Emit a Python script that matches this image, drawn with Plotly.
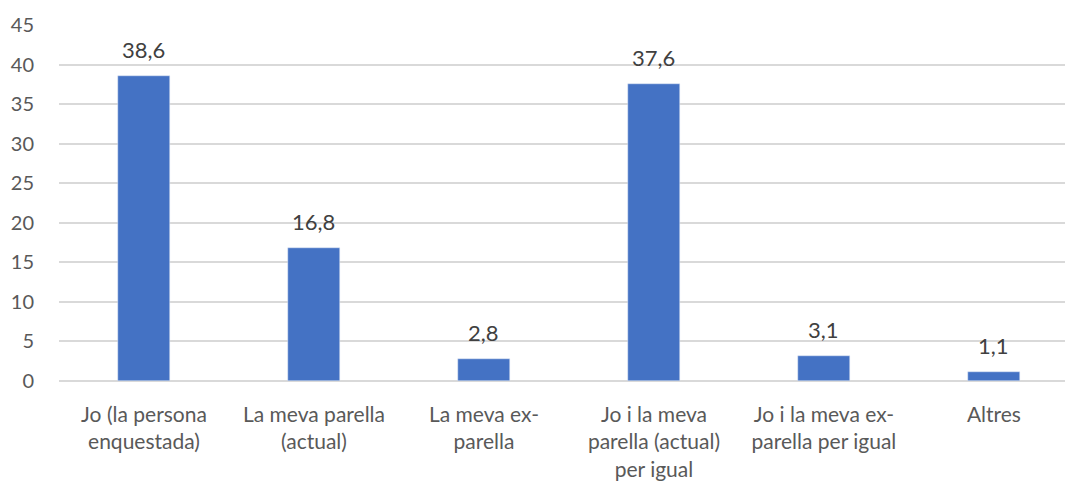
import plotly.graph_objects as go

categories = [
    "Jo (la persona<br>enquestada)",
    "La meva parella<br>(actual)",
    "La meva ex-<br>parella",
    "Jo i la meva<br>parella (actual)<br>per igual",
    "Jo i la meva ex-<br>parella per igual",
    "Altres",
]
values = [38.6, 16.8, 2.8, 37.6, 3.1, 1.1]
y_ticks = [0, 5, 10, 15, 20, 25, 30, 35, 40, 45]

FONT = "Lato, Open Sans, sans-serif"
xs = list(range(len(categories)))

fig = go.Figure(
    go.Bar(
        x=xs,
        y=values,
        marker=dict(color="#4472C4"),
        width=0.31,
    )
)

for x, v in zip(xs, values):
    fig.add_annotation(
        x=x, y=v, text=f"{v:.1f}".replace(".", ","),
        showarrow=False, yanchor="bottom", yshift=11,
        font=dict(family=FONT, size=22, color="#404040"),
    )

fig.update_layout(
    width=1065,
    height=481,
    margin=dict(l=59, r=0, t=25, b=100),
    plot_bgcolor="white",
    paper_bgcolor="white",
    separators=",.",
    font=dict(family=FONT, size=20, color="#595959"),
    showlegend=False,
    bargap=0,
)
fig.update_xaxes(
    tickmode="array",
    tickvals=xs,
    ticktext=categories,
    range=[-0.5, 5.418],
    showgrid=False,
    showline=False,
    zeroline=False,
    ticks="",
    tickangle=0,
    automargin=False,
    ticklabelstandoff=19,
    tickfont=dict(family=FONT, size=21, color="#595959"),
)
fig.update_yaxes(
    range=[0, 45],
    tickvals=y_ticks,
    showgrid=True,
    gridcolor="#D9D9D9",
    gridwidth=1.5,
    zeroline=True,
    zerolinecolor="#D9D9D9",
    zerolinewidth=1.5,
    ticks="",
    automargin=False,
    ticklabelstandoff=24,
    tickfont=dict(family=FONT, size=20, color="#595959"),
)

fig.write_html(
    "out.html",
    config={"displayModeBar": False},
    post_script="document.body.style.margin='0';document.body.style.overflow='hidden';",
)
